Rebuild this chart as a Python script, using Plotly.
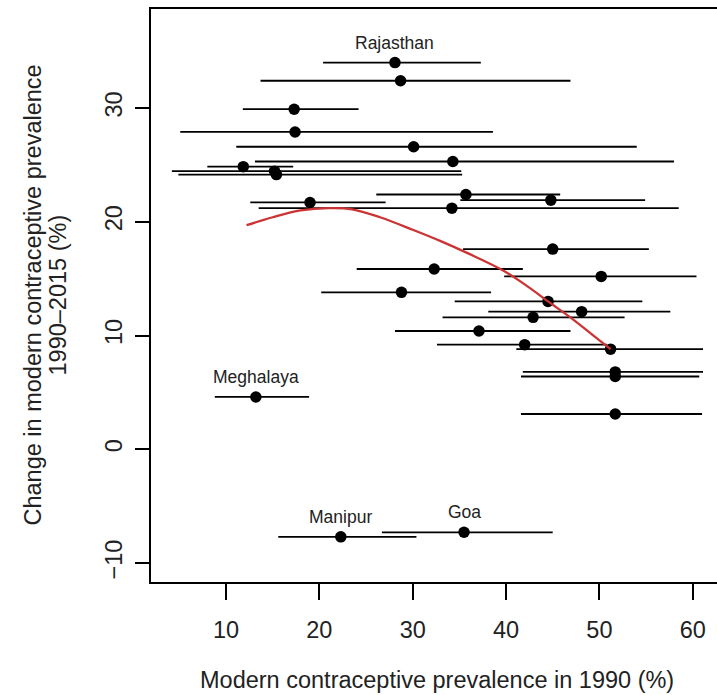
import plotly.graph_objects as go

# ---- data ----
x1990 = [28.1, 28.7, 17.3, 17.4, 30.1, 34.3, 11.85, 15.2, 15.4, 35.7, 44.8, 34.2, 19.0,
         45.0, 32.3, 50.2, 28.8, 44.5, 48.1, 42.9, 37.1, 42.0, 51.2, 51.7, 51.7, 51.7,
         13.2, 22.3, 35.5]
change = [34.0, 32.4, 29.9, 27.9, 26.6, 25.3, 24.85, 24.45, 24.15, 22.4, 21.9, 21.2, 21.7,
          17.6, 15.85, 15.2, 13.8, 13.0, 12.1, 11.6, 10.4, 9.2, 8.8, 6.8, 6.4, 3.1,
          4.6, -7.7, -7.3]
x_lo = [20.4, 13.7, 11.8, 5.1, 11.1, 13.1, 8.0, 4.2, 4.9, 26.1, 35.1, 13.5, 12.6,
        35.4, 24.0, 39.8, 20.2, 34.5, 38.1, 33.2, 28.1, 32.6, 41.1, 41.8, 41.6, 41.6,
        8.8, 15.6, 26.7]
x_hi = [37.3, 46.9, 24.2, 38.6, 54.0, 58.0, 17.2, 35.2, 35.3, 45.8, 54.9, 58.5, 27.1,
        55.3, 41.8, 60.4, 38.4, 54.6, 57.6, 52.7, 46.9, 50.8, 61.1, 61.1, 60.7, 61.0,
        18.9, 30.4, 45.0]
state_names = ["Rajasthan", "", "", "", "", "", "", "", "", "", "", "", "",
               "", "", "", "", "", "", "", "", "", "", "", "", "",
               "Meghalaya", "Manipur", "Goa"]

smooth_x = [12.2, 15.0, 18.0, 21.0, 23.5, 26.5, 30.0, 33.0, 36.0, 39.5, 42.0, 44.5, 47.2, 49.5, 51.2]
smooth_y = [19.7, 20.4, 21.0, 21.2, 21.1, 20.4, 19.3, 18.3, 17.2, 15.8, 14.5, 13.0, 11.4, 9.9, 8.8]

x_ticks = [10, 20, 30, 40, 50, 60]
y_ticks = [-10, 0, 10, 20, 30]

FONT = "Liberation Sans, Arial, Helvetica, sans-serif"
TXT = "#222222"

err_plus = [h - x for h, x in zip(x_hi, x1990)]
err_minus = [x - l for l, x in zip(x_lo, x1990)]

fig = go.Figure()
fig.add_trace(go.Scatter(
    x=x1990, y=change, mode="markers",
    marker=dict(color="black", size=11.5, line=dict(width=0)),
    error_x=dict(type="data", symmetric=False, array=err_plus, arrayminus=err_minus,
                 color="black", thickness=1.8, width=0),
    showlegend=False, hoverinfo="skip"))
fig.add_trace(go.Scatter(
    x=smooth_x, y=smooth_y, mode="lines",
    line=dict(color="#cc3333", width=2.3, shape="spline"),
    showlegend=False, hoverinfo="skip"))

for xv, yv, name in zip(x1990, change, state_names):
    if name:
        fig.add_annotation(x=xv, y=yv, text=name, showarrow=False, yshift=20,
                           font=dict(family=FONT, size=17.5, color=TXT),
                           xanchor="center", yanchor="middle")

# axis titles
fig.add_annotation(xref="paper", yref="paper", x=0.505, y=-0.171,
                   text="Modern contraceptive prevalence in 1990 (%)", showarrow=False,
                   font=dict(family=FONT, size=23.5, color=TXT),
                   xanchor="center", yanchor="middle")
fig.add_annotation(xref="paper", yref="paper", x=(32 - 151) / 566, y=0.5,
                   text="Change in modern contraceptive prevalence", showarrow=False,
                   textangle=-90, font=dict(family=FONT, size=23.5, color=TXT),
                   xanchor="center", yanchor="middle")
fig.add_annotation(xref="paper", yref="paper", x=(57 - 151) / 566, y=0.5,
                   text="1990\u20132015 (%)", showarrow=False,
                   textangle=-90, font=dict(family=FONT, size=23.5, color=TXT),
                   xanchor="center", yanchor="middle")

fig.update_layout(
    width=717, height=695,
    margin=dict(l=151, r=0, t=9, b=113),
    paper_bgcolor="white", plot_bgcolor="white",
    font=dict(family=FONT, color=TXT),
    xaxis=dict(range=[1.965, 62.6], tickvals=x_ticks, ticks="outside", ticklen=16,
               tickwidth=1.5, tickcolor="black", showline=True, linecolor="black",
               linewidth=1.6, mirror=True, showgrid=False, zeroline=False,
               tickfont=dict(family=FONT, size=23.5, color=TXT), ticklabelstandoff=10),
    yaxis=dict(range=[-11.67, 38.71], tickvals=y_ticks, ticks="outside", ticklen=14,
               tickwidth=1.5, tickcolor="black", showline=True, linecolor="black",
               linewidth=1.6, mirror=False, showgrid=False, zeroline=False,
               tickangle=-90, tickfont=dict(family=FONT, size=23.5, color=TXT),
               ticklabelstandoff=4),
)

fig.write_html("out.html", config={"displayModeBar": False},
               post_script="document.body.style.margin='0';document.body.style.overflow='hidden';")
